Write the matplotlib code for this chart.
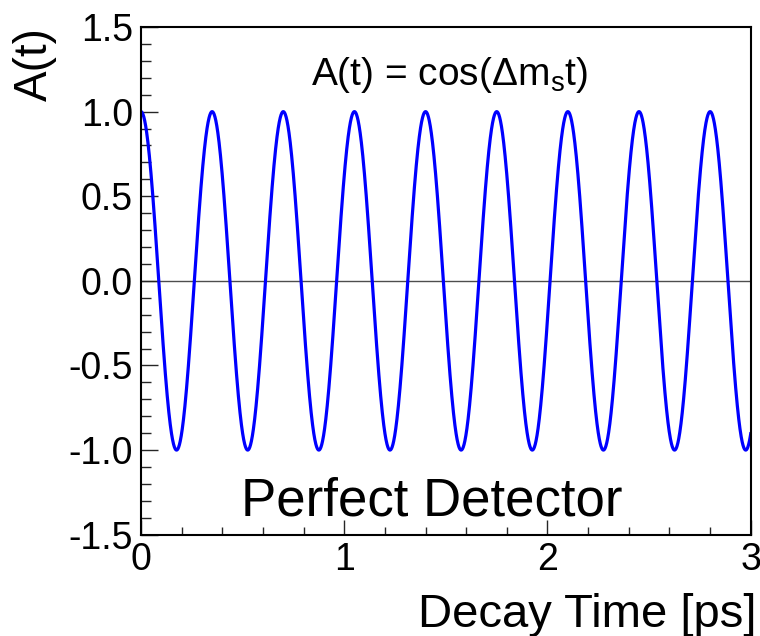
#!/usr/bin/env python3
"""Bs mixing asymmetry for an ideal detector: A(t) = cos(dm_s t)."""
import numpy as np
import matplotlib

matplotlib.use("Agg")
import matplotlib.pyplot as plt
from matplotlib.ticker import MultipleLocator

plt.rcParams["font.family"] = ["Liberation Sans", "DejaVu Sans"]

# oscillation frequency (ps^-1) and plotted time range (ps)
DELTA_MS = 17.95
T_RANGE = [0.0, 3.0]
Y_RANGE = [-1.5, 1.5]
X_TICKS = [0, 1, 2, 3]
Y_TICKS = [-1.5, -1.0, -0.5, 0.0, 0.5, 1.0, 1.5]
Y_TICKLABELS = ["-1.5", "-1.0", "-0.5", "0.0", "0.5", "1.0", "1.5"]

t = np.linspace(T_RANGE[0], T_RANGE[1], 3000)
asym = np.cos(DELTA_MS * t)

fig = plt.figure(figsize=(7.6, 6.36), dpi=100)
ax = fig.add_axes([0.1855, 0.1593, 0.8023, 0.7982])

ax.axhline(0.0, color="0.3", lw=1.0, zorder=1)
ax.plot(t, asym, color="#0000ff", lw=2.3, zorder=2)

ax.set_xlim(*T_RANGE)
ax.set_ylim(*Y_RANGE)
ax.set_xticks(X_TICKS)
ax.set_xticklabels([str(v) for v in X_TICKS])
ax.set_yticks(Y_TICKS)
ax.set_yticklabels(Y_TICKLABELS)
ax.xaxis.set_minor_locator(MultipleLocator(0.2))
ax.yaxis.set_minor_locator(MultipleLocator(0.1))

ax.tick_params(which="both", direction="in", top=False, right=False,
               width=1.0, colors="0.15", labelcolor="black")
ax.tick_params(axis="y", which="major", length=12.2, pad=5.8, labelsize=27)
ax.tick_params(axis="y", which="minor", length=7.2)
ax.tick_params(axis="x", which="major", length=10.8, pad=5.5, labelsize=27)
ax.tick_params(axis="x", which="minor", length=5.8)
for sp in ax.spines.values():
    sp.set_linewidth(1.5)
    sp.set_color("black")

ax.text(1.516, 1.16, r"A(t) = cos(Δm$\mathregular{_s}$t)", fontsize=28,
        ha="center", va="baseline")
ax.text(1.43, -1.385, "Perfect Detector", fontsize=38,
        ha="center", va="baseline")

fig.text(756 / 760, 1 - 627 / 636, "Decay Time [ps]", fontsize=34,
         ha="right", va="baseline")
fig.text(57 / 760, 1 - 27 / 636, "A(t)", fontsize=33, rotation=90,
         ha="right", va="top")

fig.savefig("out.png", dpi=100)
